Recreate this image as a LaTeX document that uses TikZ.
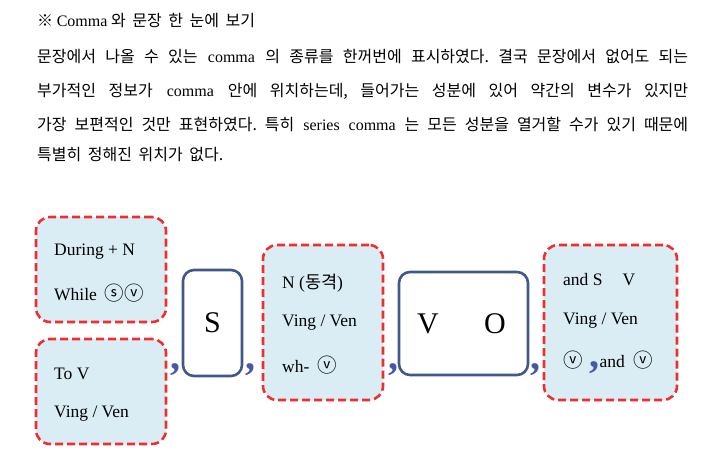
\documentclass[tikz,border=0pt]{standalone}
\usepackage{fontspec}
\setmainfont{Liberation Serif}
\newfontfamily\kr[Scale=1.0]{Noto Sans CJK KR}
\usetikzlibrary{positioning}
\frenchspacing

\definecolor{dashred}{HTML}{EE2F2F}
\definecolor{boxfill}{HTML}{DAECF4}
\definecolor{navy}{HTML}{41598A}
\definecolor{commablue}{HTML}{4658A8}

\newcommand{\cir}[1]{{\fontsize{19.5}{20}\selectfont\kr #1}}
\newcommand{\bigcomma}{\fontsize{40}{40}\selectfont\bfseries\color{commablue}}

\begin{document}
\begin{tikzpicture}[
    x=1pt, y=-1pt,
    optbox/.style={draw=dashred, fill=boxfill, line width=2.6pt, dash pattern=on 8pt off 4pt,
      rounded corners=14pt, inner sep=0pt},
    corebox/.style={draw=navy, fill=white, line width=2.6pt, rounded corners=11pt, inner sep=0pt},
    item/.style={anchor=west, inner sep=0pt, font=\fontsize{17.5}{19}\selectfont},
    core/.style={inner sep=0pt, font=\fontsize{30}{30}\selectfont},
    sep/.style={anchor=base, inner sep=0pt, font=\bigcomma},
    para/.style={anchor=west, inner sep=0pt, font=\fontsize{16}{18}\selectfont}
]
\useasboundingbox (0,0) rectangle (718,460);

% explanation text
\node[para] (title) at (37,21) {\kr ※ {\rmfamily Comma} 와\hspace{3pt} 문장\hspace{3pt} 한\hspace{3pt} 눈에\hspace{3pt} 보기};
\node[para] (line1) at (37,57) {\makebox[651pt][s]{{\kr 문장에서 나올 수 있는} comma {\kr 의 종류를 한꺼번에 표시하였다. 결국 문장에서 없어도 되는}}};
\node[para] (line2) at (37,91) {\makebox[651pt][s]{{\kr 부가적인 정보가} comma {\kr 안에 위치하는데, 들어가는 성분에 있어 약간의 변수가 있지만}}};
\node[para] (line3) at (37,124) {\makebox[651pt][s]{{\kr 가장 보편적인 것만 표현하였다. 특히} series comma {\kr 는 모든 성분을 열거할 수가 있기 때문에}}};
\node[para] (line4) at (37,155) {\kr 특별히\hspace{3pt} 정해진\hspace{3pt} 위치가\hspace{3pt} 없다.};

% boxes
\node[optbox, minimum width=130pt, minimum height=105pt] (during) at (101,269.5) {};
\node[optbox, minimum width=130pt, minimum height=105pt] (tov) at (101,391.5) {};
\node[corebox, minimum width=59pt, minimum height=106pt] (subj) at (212.5,323) {};
\node[optbox, minimum width=120pt, minimum height=155pt] (appos) at (323,322.5) {};
\node[corebox, minimum width=129pt, minimum height=103pt] (verbobj) at (463.5,323.5) {};
\node[optbox, minimum width=133pt, minimum height=155pt] (series) at (610.5,322.5) {};

% box texts
\node[core] (s) at (subj) {S};
\node[core] (v) at (428,324) {V};
\node[core] (o) at (495,324) {O};
\node[item] (t1) at (54,252) {During + N};
\node[item] (t2) at (54,293) {While\hspace{8pt}\cir{ⓢ}\cir{ⓥ}};
\node[item] (t3) at (54,374) {To V};
\node[item] (t4) at (54,414) {Ving / Ven};
\node[item] (t5) at (282,283) {N ({\kr 동격})};
\node[item] (t6) at (282,323) {Ving / Ven};
\node[item] (t7) at (282,365) {wh-\hspace{8pt}\cir{ⓥ}};
\node[item] (t8) at (563,280) {and S\hspace{20pt}V};
\node[item] (t9) at (563,321) {Ving / Ven};
\node[item] (t10) at (563,362) {\cir{ⓥ}\hspace{7pt}{\bigcomma ,}and\hspace{9pt}\cir{ⓥ}};

% commas between parts
\node[sep] (c1) at (175,369) {,};
\node[sep] (c2) at (250,369) {,};
\node[sep] (c3) at (393,369) {,};
\node[sep] (c4) at (535,369) {,};
\end{tikzpicture}
\end{document}
